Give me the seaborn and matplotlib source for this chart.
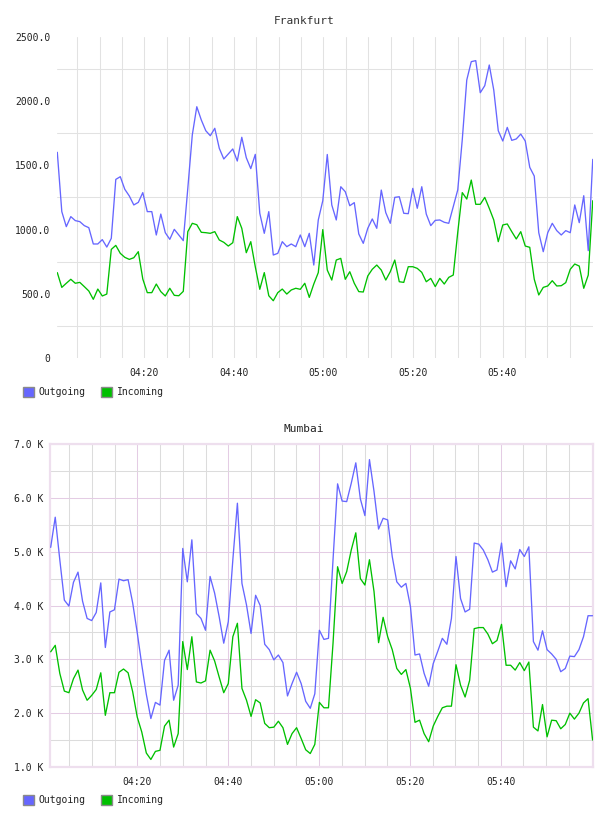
import numpy as np
import pandas as pd
import matplotlib
matplotlib.use("Agg")
import matplotlib.pyplot as plt
import matplotlib.dates as mdates
from matplotlib.ticker import FixedLocator, FixedFormatter, NullFormatter
from matplotlib.patches import Patch
import seaborn as sns

sns.set_style("white")
plt.rcParams["font.family"] = ["DejaVu Sans Mono", "DejaVu Sans"]

# ---------------- data ----------------
series_names = ["Outgoing", "Incoming"]
series_colors = ["#6666ff", "#00c000"]
tick_labels = ["04:20", "04:40", "05:00", "05:20", "05:40"]
day = "2024-01-01 "

fra_start = "04:00:33"
fra_step = "60300ms"
fra_outgoing = [
    1602, 1140, 1023, 1101, 1070, 1062, 1031, 1015, 888, 888,
    922, 864, 932, 1391, 1412, 1314, 1262, 1192, 1212, 1288,
    1140, 1140, 958, 1121, 976, 924, 1002, 958, 914, 1320,
    1737, 1957, 1854, 1770, 1731, 1789, 1633, 1550, 1589, 1628,
    1534, 1719, 1560, 1475, 1586, 1127, 971, 1140, 802, 815,
    906, 867, 888, 867, 958, 867, 971, 724, 1075, 1225,
    1585, 1192, 1075, 1334, 1295, 1186, 1210, 966, 893, 1010,
    1083, 1010, 1308, 1132, 1049, 1251, 1256, 1127, 1124, 1321,
    1166, 1334, 1121, 1031, 1072, 1075, 1057, 1049, 1179, 1310,
    1700, 2165, 2308, 2316, 2066, 2121, 2282, 2087, 1770, 1690,
    1796, 1695, 1706, 1744, 1690, 1485, 1417, 976, 828, 976,
    1049, 992, 958, 992, 976, 1192, 1054, 1264, 836, 1547,
]
fra_incoming = [
    665, 550, 582, 613, 582, 589, 556, 522, 457, 537,
    483, 498, 846, 877, 815, 784, 768, 781, 828, 615,
    509, 509, 576, 517, 483, 543, 488, 485, 519, 984,
    1049, 1038, 979, 976, 971, 984, 919, 901, 872, 898,
    1101, 1010, 820, 906, 711, 535, 665, 485, 446, 509,
    537, 498, 530, 543, 535, 582, 472, 576, 665, 1000,
    685, 607, 763, 776, 613, 672, 582, 517, 514, 639,
    691, 724, 685, 607, 672, 763, 594, 589, 711, 711,
    698, 667, 594, 620, 556, 620, 576, 628, 646, 980,
    1288, 1238, 1386, 1197, 1197, 1251, 1166, 1075, 906, 1036,
    1044, 984, 927, 984, 872, 862, 613, 491, 550, 561,
    602, 561, 563, 587, 691, 732, 716, 543, 646, 1225,
]

mum_start = "04:00:55"
mum_step = "60150ms"
mum_outgoing = [  # thousands
    5.08, 5.64, 4.85, 4.10, 3.99, 4.43, 4.62, 4.08, 3.76, 3.72,
    3.87, 4.42, 3.22, 3.88, 3.92, 4.49, 4.46, 4.48, 4.05, 3.50,
    2.90, 2.35, 1.90, 2.20, 2.15, 2.98, 3.17, 2.24, 2.52, 5.06,
    4.44, 5.22, 3.85, 3.76, 3.54, 4.54, 4.23, 3.79, 3.30, 3.70,
    4.85, 5.90, 4.41, 4.01, 3.48, 4.19, 4.00, 3.28, 3.18, 2.99,
    3.08, 2.94, 2.32, 2.55, 2.76, 2.55, 2.22, 2.09, 2.36, 3.54,
    3.37, 3.39, 4.85, 6.26, 5.94, 5.93, 6.27, 6.65, 5.98, 5.67,
    6.71, 6.12, 5.42, 5.62, 5.59, 4.91, 4.44, 4.34, 4.41, 3.98,
    3.08, 3.10, 2.74, 2.50, 2.92, 3.15, 3.39, 3.28, 3.76, 4.91,
    4.13, 3.88, 3.93, 5.16, 5.14, 5.03, 4.85, 4.62, 4.66, 5.16,
    4.35, 4.83, 4.68, 5.04, 4.91, 5.09, 3.33, 3.17, 3.53, 3.18,
    3.10, 3.00, 2.77, 2.83, 3.06, 3.05, 3.18, 3.42, 3.81, 3.81,
]
mum_incoming = [  # thousands
    3.14, 3.26, 2.74, 2.41, 2.38, 2.64, 2.80, 2.43, 2.24, 2.33,
    2.44, 2.75, 1.96, 2.38, 2.38, 2.76, 2.82, 2.75, 2.40, 1.93,
    1.65, 1.26, 1.14, 1.29, 1.31, 1.76, 1.87, 1.37, 1.62, 3.33,
    2.81, 3.42, 2.58, 2.56, 2.60, 3.17, 2.97, 2.67, 2.38, 2.55,
    3.42, 3.67, 2.46, 2.24, 1.94, 2.25, 2.19, 1.81, 1.73, 1.74,
    1.85, 1.73, 1.42, 1.62, 1.73, 1.53, 1.32, 1.25, 1.42, 2.20,
    2.10, 2.10, 3.30, 4.72, 4.41, 4.63, 5.03, 5.35, 4.50, 4.38,
    4.85, 4.26, 3.31, 3.78, 3.42, 3.18, 2.83, 2.72, 2.81, 2.46,
    1.83, 1.87, 1.62, 1.47, 1.76, 1.94, 2.10, 2.13, 2.13, 2.90,
    2.52, 2.30, 2.61, 3.57, 3.59, 3.59, 3.47, 3.29, 3.35, 3.65,
    2.89, 2.89, 2.80, 2.94, 2.79, 2.95, 1.74, 1.67, 2.16, 1.56,
    1.87, 1.86, 1.71, 1.79, 2.00, 1.89, 2.00, 2.19, 2.27, 1.50,
]


def make_frame(start, step, out_vals, in_vals):
    t = pd.date_range(day + start, periods=len(out_vals), freq=step)
    return pd.concat([
        pd.DataFrame({"time": t, "value": out_vals, "series": series_names[0]}),
        pd.DataFrame({"time": t, "value": in_vals, "series": series_names[1]}),
    ], ignore_index=True)


def dn(s):
    return mdates.date2num(pd.Timestamp(day + s).to_pydatetime())


palette = dict(zip(series_names, series_colors))
W, H = 608, 816
fig = plt.figure(figsize=(W / 100, H / 100), dpi=100)
GLW = 0.75
LLW = 0.95

# ---------------- Frankfurt ----------------
df_f = make_frame(fra_start, fra_step, fra_outgoing, fra_incoming)
ax1 = fig.add_axes([57.3 / W, 1 - 358 / H, (593 - 57.3) / W, (358 - 37) / H])
sns.lineplot(data=df_f, x="time", y="value", hue="series", palette=palette,
             linewidth=LLW, legend=False, ax=ax1, zorder=3)
ax1.set_xlim(dn(fra_start), dn("06:00:12"))
ax1.set_ylim(0, 2500)
ax1.set_xlabel(""); ax1.set_ylabel("")
for s in ax1.spines.values():
    s.set_visible(False)
major_x = [dn(t) for t in tick_labels]
minor_x = [mdates.date2num(t.to_pydatetime()) for t in
           pd.date_range(day + "04:05", day + "05:55", freq="5min")]
ax1.xaxis.set_major_locator(FixedLocator(major_x))
ax1.xaxis.set_major_formatter(FixedFormatter(tick_labels))
ax1.xaxis.set_minor_locator(FixedLocator(minor_x))
ax1.xaxis.set_minor_formatter(NullFormatter())
fra_yticks = [0, 500, 1000, 1500, 2000, 2500]
ax1.yaxis.set_major_locator(FixedLocator(fra_yticks))
ax1.yaxis.set_major_formatter(FixedFormatter(["0"] + [f"{v:.1f}" for v in fra_yticks[1:]]))
ax1.yaxis.set_minor_locator(FixedLocator([250, 750, 1250, 1750, 2250]))
ax1.grid(False)
ax1.grid(which="minor", axis="x", color="#e2e2e2", linewidth=GLW, zorder=0)
ax1.grid(which="major", axis="x", color="#e2e2e2", linewidth=GLW, zorder=0)
ax1.grid(which="minor", axis="y", color="#e2e2e2", linewidth=GLW, zorder=0)
ax1.tick_params(which="both", length=0)
ax1.tick_params(axis="y", pad=5, labelsize=7, labelcolor="#222222")
ax1.tick_params(axis="x", pad=7.5, labelsize=7, labelcolor="#222222")
fig.text(0.5, 1 - 20.5 / H, "Frankfurt", ha="center", va="center",
         fontsize=8, color="#333333")

# ---------------- Mumbai ----------------
df_m = make_frame(mum_start, mum_step, mum_outgoing, mum_incoming)
ax2 = fig.add_axes([50 / W, 1 - 767 / H, (593.3 - 50) / W, (767 - 444) / H])
sns.lineplot(data=df_m, x="time", y="value", hue="series", palette=palette,
             linewidth=LLW, legend=False, ax=ax2, zorder=3)
ax2.set_xlim(dn("04:00:46"), dn("06:00:22"))
ax2.set_ylim(1.0, 7.0)
ax2.set_xlabel(""); ax2.set_ylabel("")
for s in ax2.spines.values():
    s.set_visible(True)
    s.set_color("#eedfee")
    s.set_linewidth(1.6)
ax2.xaxis.set_major_locator(FixedLocator(major_x))
ax2.xaxis.set_major_formatter(FixedFormatter(tick_labels))
ax2.xaxis.set_minor_locator(FixedLocator([m for m in minor_x if m not in major_x]))
ax2.xaxis.set_minor_formatter(NullFormatter())
mum_yticks = [1, 2, 3, 4, 5, 6, 7]
ax2.yaxis.set_major_locator(FixedLocator(mum_yticks))
ax2.yaxis.set_major_formatter(FixedFormatter([f"{v:.1f} K" for v in mum_yticks]))
ax2.yaxis.set_minor_locator(FixedLocator([1.5, 2.5, 3.5, 4.5, 5.5, 6.5]))
ax2.grid(False)
ax2.grid(which="major", axis="both", color="#e4cce4", linewidth=GLW, zorder=0)
ax2.grid(which="minor", axis="both", color="#dcdcdc", linewidth=GLW, zorder=0)
ax2.tick_params(which="both", length=0)
ax2.tick_params(axis="y", pad=5, labelsize=7, labelcolor="#222222")
ax2.tick_params(axis="x", pad=7.5, labelsize=7, labelcolor="#222222")
fig.text(0.5, 1 - 429 / H, "Mumbai", ha="center", va="center",
         fontsize=8, color="#222222")

# ---------------- legends ----------------
handles = [Patch(facecolor=c, edgecolor="#8a8a8a", linewidth=1.0, label=n)
           for n, c in zip(series_names, series_colors)]
for ypix in (392, 800):
    fig.legend(handles=handles, loc="center left",
               bbox_to_anchor=(23 / W, 1 - ypix / H), ncol=2, frameon=False,
               fontsize=7, handlelength=1.15, handleheight=1.15,
               handletextpad=0.45, columnspacing=1.6, borderaxespad=0,
               borderpad=0, labelcolor="#222222")

fig.savefig("out.png", dpi=100, facecolor="white")
